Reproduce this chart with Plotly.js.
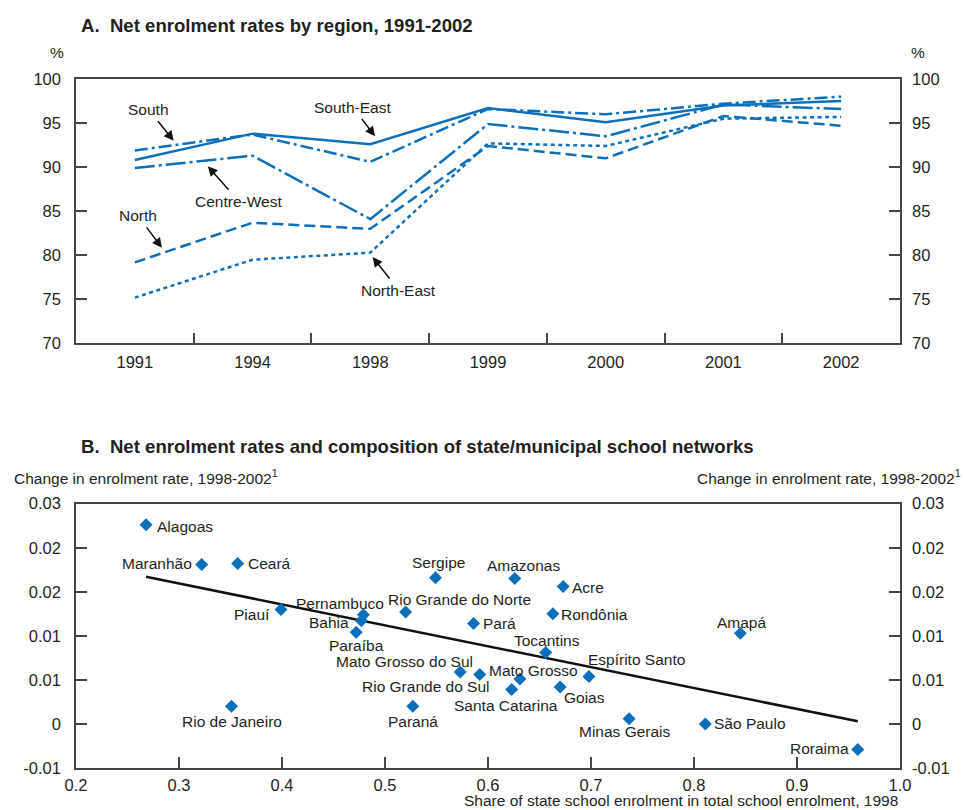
<!DOCTYPE html>
<html>
<head>
<meta charset="utf-8">
<script src="https://cdn.plot.ly/plotly-3.0.1.min.js"></script>
<style>
  html, body { margin: 0; padding: 0; background: #ffffff; }
  #chart { width: 965px; height: 810px; }
</style>
</head>
<body>
<div id="chart"></div>
<script>
// ---- Panel A: net enrolment rates by region (%) ----
const years = ['1991', '1994', '1998', '1999', '2000', '2001', '2002'];
const south      = [91.9, 93.7, 90.6, 96.6, 96.0, 97.2, 98.0];
const southEast  = [90.8, 93.8, 92.6, 96.7, 95.1, 97.0, 97.5];
const centreWest = [89.9, 91.3, 84.1, 94.9, 93.5, 97.1, 96.6];
const north      = [79.2, 83.7, 83.0, 92.4, 91.0, 95.8, 94.7];
const northEast  = [75.2, 79.5, 80.3, 92.7, 92.4, 95.5, 95.7];

// ---- Panel B: state share of enrolment (1998) vs change in enrolment rate ----
const states = ['Alagoas', 'Maranhão', 'Ceará', 'Sergipe', 'Piauí', 'Pernambuco', 'Bahia',
  'Paraíba', 'Rio Grande do Norte', 'Pará', 'Amazonas', 'Acre', 'Rondônia', 'Amapá',
  'Tocantins', 'Espírito Santo', 'Mato Grosso', 'Mato Grosso do Sul', 'Rio Grande do Sul',
  'Santa Catarina', 'Goias', 'Minas Gerais', 'São Paulo', 'Roraima', 'Rio de Janeiro', 'Paraná'];
const stateShare = [0.268, 0.322, 0.357, 0.549, 0.399, 0.479, 0.477,
  0.472, 0.520, 0.586, 0.626, 0.673, 0.663, 0.845,
  0.656, 0.698, 0.631, 0.573, 0.592,
  0.623, 0.670, 0.737, 0.811, 0.959, 0.351, 0.527];
const rateChange = [0.0226, 0.0181, 0.0182, 0.0166, 0.0130, 0.0124, 0.0117,
  0.0104, 0.0127, 0.0114, 0.0165, 0.0156, 0.0125, 0.0103,
  0.0081, 0.0054, 0.0051, 0.0059, 0.0056,
  0.0039, 0.0042, 0.0006, 0.0000, -0.0029, 0.0020, 0.0020];
// fitted line end points
const trendShare  = [0.268, 0.959];
const trendChange = [0.0167, 0.0003];
const changeTickVals = [-0.005, 0, 0.005, 0.01, 0.015, 0.02, 0.025];
const changeTickText = ['-0.01', '0', '0.01', '0.01', '0.02', '0.02', '0.03'];

const BLUE = '#0b6fba';
const INK = '#231f20';
const AXIS = '#444444';
const FONT = 'Liberation Sans, Arial, Helvetica, sans-serif';

function regionLine(name, values, dash) {
  return { type: 'scatter', mode: 'lines', name: name, x: years, y: values,
    xaxis: 'x', yaxis: 'y', line: { color: BLUE, width: 2.5, dash: dash },
    hoverinfo: 'skip' };
}

const traces = [
  regionLine('South', south, '13px,4px,3px,4px'),
  regionLine('South-East', southEast, 'solid'),
  regionLine('Centre-West', centreWest, '20px,4px,3px,4px'),
  regionLine('North', north, '11px,5px'),
  regionLine('North-East', northEast, '4px,3.5px'),
  { type: 'scatter', mode: 'lines', x: trendShare, y: trendChange, xaxis: 'x2', yaxis: 'y2',
    line: { color: '#111111', width: 2.5 }, hoverinfo: 'skip' },
  { type: 'scatter', mode: 'markers', x: stateShare, y: rateChange, text: states,
    xaxis: 'x2', yaxis: 'y2',
    marker: { symbol: 'diamond', size: 10, color: BLUE, line: { width: 0 } } },
  // empty series that register the right-hand value axes
  { type: 'scatter', mode: 'lines', x: [], y: [], xaxis: 'x', yaxis: 'y3', hoverinfo: 'skip' },
  { type: 'scatter', mode: 'lines', x: [], y: [], xaxis: 'x2', yaxis: 'y4', hoverinfo: 'skip' }
];

// Callouts for panel A: arrow tip (category index, %) and tail offset in px
const callouts = [
  { text: 'South',       tip: [0.33, 93.0],  off: [-25, -31] },
  { text: 'South-East',  tip: [2.04, 93.5],  off: [-22, -29] },
  { text: 'Centre-West', tip: [0.62, 90.1],  off: [31, 35] },
  { text: 'North',       tip: [0.23, 80.85], off: [-24, -32] },
  { text: 'North-East',  tip: [2.02, 79.8],  off: [26, 33] }
];

// Label placement for panel B: [anchor, x shift px, y shift px]
const labelPlace = {
  'Alagoas': ['left', 10, -2], 'Maranhão': ['right', -9, 1], 'Ceará': ['left', 9, 0],
  'Sergipe': ['center', 3, 15], 'Piauí': ['right', -10, -5], 'Pernambuco': ['center', -23, 11],
  'Bahia': ['right', -11, -2], 'Paraíba': ['center', 0, -13],
  'Rio Grande do Norte': ['left', -19, 13], 'Pará': ['left', 8, 0],
  'Amazonas': ['center', 9, 13], 'Acre': ['left', 8, -1], 'Rondônia': ['left', 7, -1],
  'Amapá': ['center', 1, 11], 'Tocantins': ['center', 1, 12], 'Espírito Santo': ['left', -2, 17],
  'Mato Grosso': ['center', 14, 9], 'Mato Grosso do Sul': ['right', 14, 10],
  'Rio Grande do Sul': ['right', 11, -12], 'Santa Catarina': ['center', -6, -16],
  'Goias': ['left', 3, -11], 'Minas Gerais': ['center', -4, -13], 'São Paulo': ['left', 8, 0],
  'Roraima': ['right', -8, 1], 'Rio de Janeiro': ['center', 0, -15], 'Paraná': ['center', 0, -15]
};

const annotations = [];
function paperText(text, x, y, xanchor, size, bold) {
  annotations.push({ xref: 'paper', yref: 'paper', x: x, y: y, xanchor: xanchor, yanchor: 'middle',
    text: bold ? '<b>' + text + '</b>' : text, showarrow: false,
    font: { family: FONT, size: size, color: INK } });
}
paperText('A.&nbsp;&nbsp;Net enrolment rates by region, 1991-2002', 0.004, 1.077, 'left', 18.6, true);
paperText('%', -0.023, 1.038, 'center', 15.5, false);
paperText('%', 1.022, 1.038, 'center', 15.5, false);
paperText('B.&nbsp;&nbsp;Net enrolment rates and composition of state/municipal school networks', 0.004, 0.466, 'left', 18.6, true);
paperText('Change in enrolment rate, 1998-2002<sup>1</sup>', -0.078, 0.422, 'left', 15.5, false);
paperText('Change in enrolment rate, 1998-2002<sup>1</sup>', 1.076, 0.422, 'right', 15.5, false);
paperText('Share of state school enrolment in total school enrolment, 1998', 1.0, -0.047, 'right', 15.5, false);

callouts.forEach(c => annotations.push({
  xref: 'x', yref: 'y', x: c.tip[0], y: c.tip[1], ax: c.off[0], ay: c.off[1],
  text: c.text, showarrow: true, arrowhead: 2, arrowsize: 1.3, arrowwidth: 1.5,
  arrowcolor: '#111111', standoff: 0, startstandoff: 2,
  font: { family: FONT, size: 15.5, color: INK }
}));

states.forEach((s, i) => {
  const p = labelPlace[s];
  annotations.push({ xref: 'x2', yref: 'y2', x: stateShare[i], y: rateChange[i],
    text: s, showarrow: false, xanchor: p[0], yanchor: 'middle', xshift: p[1], yshift: p[2],
    borderpad: 0, font: { family: FONT, size: 15.5, color: INK } });
});

const axisCommon = {
  showgrid: false, zeroline: false, showline: true, linecolor: AXIS, linewidth: 1.5,
  ticks: 'inside', ticklen: 11, tickwidth: 1.5, tickcolor: AXIS,
  ticklabelstandoff: 10, tickfont: { family: FONT, size: 16.5, color: INK }
};

const layout = {
  width: 965, height: 810,
  margin: { l: 76, r: 65, t: 79, b: 42 },
  paper_bgcolor: '#ffffff', plot_bgcolor: '#ffffff',
  showlegend: false,
  font: { family: FONT, color: INK },
  xaxis: Object.assign({}, axisCommon, { domain: [0, 1], anchor: 'y', type: 'category',
    range: [-0.5, 6.5], tickson: 'boundaries', mirror: true, ticklabelstandoff: 3 }),
  yaxis: Object.assign({}, axisCommon, { domain: [0.6162, 1], anchor: 'x',
    range: [70, 100], dtick: 5, tick0: 70 }),
  yaxis3: Object.assign({}, axisCommon, { overlaying: 'y', side: 'right', anchor: 'x',
    range: [70, 100], dtick: 5, tick0: 70, ticklabelstandoff: 7 }),
  xaxis2: Object.assign({}, axisCommon, { domain: [0, 1], anchor: 'y2',
    range: [0.2, 1.0], dtick: 0.1, tick0: 0.2, tickformat: '.1f', mirror: true,
    ticklabelstandoff: 1 }),
  yaxis2: Object.assign({}, axisCommon, { domain: [0, 0.3836], anchor: 'x2',
    range: [-0.005, 0.025], tickvals: changeTickVals, ticktext: changeTickText }),
  yaxis4: Object.assign({}, axisCommon, { overlaying: 'y2', side: 'right', anchor: 'x2',
    range: [-0.005, 0.025], tickvals: changeTickVals, ticktext: changeTickText,
    ticklabelstandoff: 7 }),
  annotations: annotations
};

Plotly.newPlot('chart', traces, layout, { displayModeBar: false, responsive: false });
</script>
</body>
</html>
